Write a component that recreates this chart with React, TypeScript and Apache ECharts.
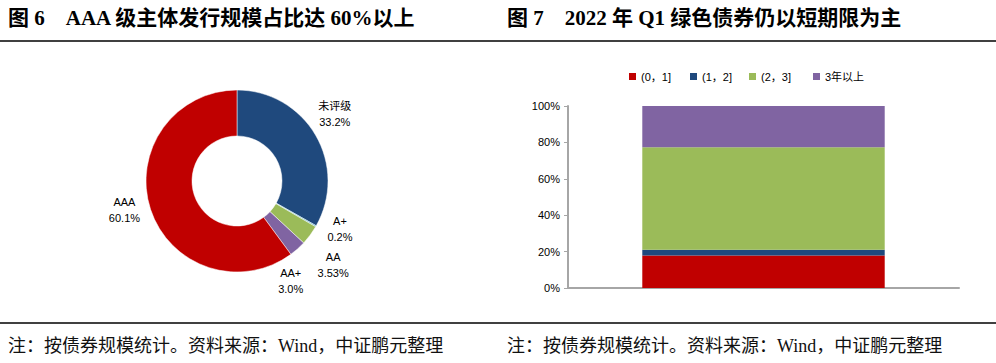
import React, { useEffect, useRef } from "react";
import * as echarts from "echarts";

const leftTitle = "图 6    AAA 级主体发行规模占比达 60%以上";
const rightTitle = "图 7    2022 年 Q1 绿色债券仍以短期限为主";
const footnote = "注：按债券规模统计。资料来源：Wind，中证鹏元整理";

const pieNames = ["未评级", "A+", "AA", "AA+", "AAA"];
const pieValues = [33.2, 0.2, 3.53, 3.0, 60.1];
const pieLabels = ["33.2%", "0.2%", "3.53%", "3.0%", "60.1%"];
const pieColors = ["#1F497D", "#4BACC6", "#9BBB59", "#8064A2", "#C00000"];
// label nudges (px) relative to ECharts' default outside placement
const pieLabelShift = [[-11, -16], [-6, -2], [-7, 0], [-31, -18], [4, -2]];

const barCategories = ["2022Q1"];
const barSeriesNames = ["(0，1]", "(1，2]", "(2，3]", "3年以上"];
const barValues = [[17.9], [3.1], [56.3], [22.7]];
const barColors = ["#C00000", "#1F497D", "#9BBB59", "#8064A2"];
const yTicks = [0, 20, 40, 60, 80, 100];
const legendLefts = [629, 690, 749, 813];

const CJK_SERIF = "'Liberation Serif', 'Noto Sans CJK SC', serif";
const SANS = "'Liberation Sans', 'Noto Sans CJK SC', sans-serif";

export default function App() {
  const ref = useRef<HTMLDivElement>(null);
  useEffect(() => {
    document.body.style.margin = "0";
    if (!ref.current) return;
    const chart = echarts.init(ref.current, undefined, { renderer: "svg" });
    const option: any = {
      animation: false,
      backgroundColor: "#fff",
      graphic: [
        { type: "text", left: 8, top: 7, style: { text: leftTitle, font: `bold 21px ${CJK_SERIF}`, fill: "#000" } },
        { type: "text", left: 507, top: 7, style: { text: rightTitle, font: `bold 21px ${CJK_SERIF}`, fill: "#000" } },
        { type: "line", shape: { x1: 0, y1: 41, x2: 996, y2: 41 }, style: { stroke: "#000", lineWidth: 1.5 } },
        { type: "line", shape: { x1: 0, y1: 323, x2: 996, y2: 323 }, style: { stroke: "#000", lineWidth: 1.5 } },
        { type: "text", left: 8, top: 337, style: { text: footnote, font: `18px ${CJK_SERIF}`, fill: "#111" } },
        { type: "text", left: 507, top: 337, style: { text: footnote, font: `18px ${CJK_SERIF}`, fill: "#111" } },
      ],
      legend: barSeriesNames.map((name, i) => ({
        data: [name],
        left: legendLefts[i],
        top: 71,
        icon: "rect",
        itemWidth: 7,
        itemHeight: 7,
        padding: 0,
        textStyle: { fontSize: 11, fontFamily: SANS, color: "#000" },
      })),
      grid: { left: 568, right: 37, top: 106, bottom: 75, containLabel: false },
      xAxis: {
        type: "category",
        data: barCategories,
        axisLine: { show: true, lineStyle: { color: "#A6A6A6", width: 2 } },
        axisTick: { show: false },
        axisLabel: { show: false },
      },
      yAxis: {
        type: "value",
        min: yTicks[0],
        max: yTicks[yTicks.length - 1],
        interval: 20,
        axisLine: { show: true, lineStyle: { color: "#A6A6A6", width: 2 } },
        axisTick: { show: true, length: 4, lineStyle: { color: "#A6A6A6" } },
        splitLine: { show: false },
        axisLabel: { formatter: "{value}%", fontSize: 11, fontFamily: SANS, color: "#000", margin: 8 },
      },
      series: [
        ...barSeriesNames.map((name, i) => ({
          type: "bar",
          name,
          stack: "total",
          data: barValues[i],
          barWidth: "62%",
          itemStyle: { color: barColors[i] },
        })),
        {
          type: "pie",
          center: [237, 181],
          radius: [45, 91],
          startAngle: 90,
          clockwise: true,
          avoidLabelOverlap: true,
          data: pieNames.map((n, i) => ({ name: n, value: pieValues[i], itemStyle: { color: pieColors[i] } })),
          itemStyle: { borderColor: "#fff", borderWidth: 0.5 },
          label: {
            show: true,
            position: "outside",
            formatter: (p: any) => `${p.name}\n${pieLabels[p.dataIndex]}`,
            fontSize: 11,
            lineHeight: 16,
            fontFamily: SANS,
            color: "#000",
          },
          labelLine: { show: false, length: 10, length2: 0 },
          labelLayout: (params: any) => {
            const r = params.labelRect;
            const s = pieLabelShift[params.dataIndex] || [0, 0];
            return {
              x: r.x + r.width / 2 + s[0],
              y: r.y + r.height / 2 + s[1],
              align: "center",
              verticalAlign: "middle",
            };
          },
        },
      ],
    };
    chart.setOption(option);
    return () => chart.dispose();
  }, []);
  return <div ref={ref} style={{ width: 996, height: 363 }} />;
}
